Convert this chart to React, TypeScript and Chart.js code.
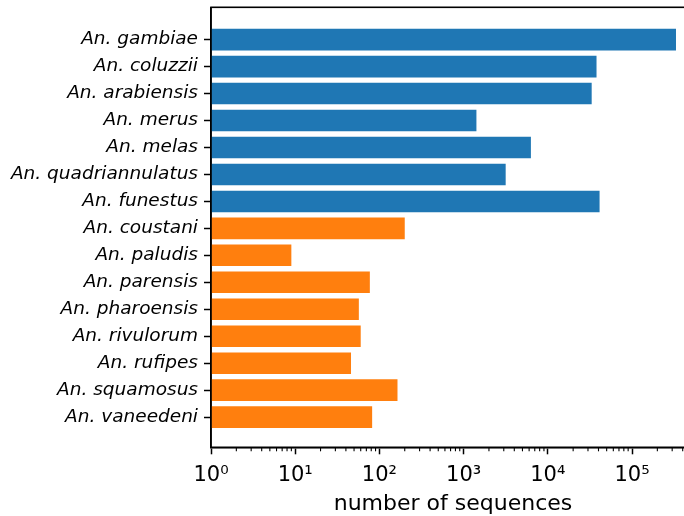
import React, { useEffect, useRef } from 'react';
import { Chart, registerables } from 'chart.js';

Chart.register(...registerables);

const species = [
  'An. gambiae',
  'An. coluzzii',
  'An. arabiensis',
  'An. merus',
  'An. melas',
  'An. quadriannulatus',
  'An. funestus',
  'An. coustani',
  'An. paludis',
  'An. parensis',
  'An. pharoensis',
  'An. rivulorum',
  'An. rufipes',
  'An. squamosus',
  'An. vaneedeni',
];

const sequenceCounts = [
  333000, 37900, 33200, 1420, 6300, 3160, 41200,
  200, 9, 77, 57, 60, 46, 164, 82,
];

const speciesGroup = [
  'gambiae complex', 'gambiae complex', 'gambiae complex', 'gambiae complex',
  'gambiae complex', 'gambiae complex', 'gambiae complex',
  'other', 'other', 'other', 'other', 'other', 'other', 'other', 'other',
];

const decadeTicks = [1, 10, 100, 1000, 10000, 100000];
const decadeLabels = ['10⁰', '10¹', '10²', '10³', '10⁴', '10⁵'];
const minorMultipliers = [2, 3, 4, 5, 6, 7, 8, 9];

const groupColors: Record<string, string> = {
  'gambiae complex': '#1f77b4',
  other: '#ff7f0e',
};

const FONT = "'DejaVu Sans', sans-serif";

const framePlugin = {
  id: 'frameAndMinor',
  afterDraw(chart: any) {
    const { ctx, chartArea } = chart;
    const xs = chart.scales.x;
    ctx.save();
    ctx.strokeStyle = '#000';
    ctx.lineWidth = 1.6;
    ctx.strokeRect(chartArea.left, chartArea.top, chartArea.right - chartArea.left, chartArea.bottom - chartArea.top);
    ctx.lineWidth = 1.1;
    for (const d of decadeTicks) {
      for (const m of minorMultipliers) {
        const v = d * m;
        if (v > xs.max) continue;
        const px = xs.getPixelForValue(v);
        ctx.beginPath();
        ctx.moveTo(px, chartArea.bottom);
        ctx.lineTo(px, chartArea.bottom + 4);
        ctx.stroke();
      }
    }
    ctx.restore();
  },
};

export default function App() {
  const canvasRef = useRef<HTMLCanvasElement | null>(null);

  useEffect(() => {
    document.body.style.margin = '0';
    if (!canvasRef.current) return;
    Chart.defaults.font.family = FONT;
    const chart = new Chart(canvasRef.current, {
      type: 'bar',
      data: {
        datasets: [
          {
            data: species.map((_, i) => ({ x: sequenceCounts[i], y: i })),
            backgroundColor: speciesGroup.map((g) => groupColors[g]),
            borderWidth: 0,
            barPercentage: 0.8,
            categoryPercentage: 1,
          },
        ],
      },
      options: {
        indexAxis: 'y',
        animation: false,
        responsive: true,
        maintainAspectRatio: false,
        layout: { padding: { top: 7.3, right: 1, left: 0, bottom: 0 } },
        plugins: {
          legend: { display: false },
          tooltip: { enabled: false },
        },
        scales: {
          y: {
            type: 'linear',
            reverse: true,
            offset: false,
            min: -1.2,
            max: 15.12,
            afterBuildTicks: (s: any) => {
              s.ticks = species.map((_, i) => ({ value: i }));
            },
            afterFit: (s: any) => {
              s.width = 211;
              s.paddingTop = 0;
              s.paddingBottom = 0;
            },
            ticks: {
              autoSkip: false,
              padding: 6,
              color: '#000',
              font: { family: FONT, size: 18.5, style: 'italic' },
              callback: (v: any) => species[v as number],
            },
            grid: {
              offset: false,
              drawOnChartArea: false,
              drawTicks: true,
              tickLength: 7,
              tickColor: '#000',
              tickWidth: 1.5,
            },
            border: { display: true, color: '#000', width: 1.6 },
          },
          x: {
            type: 'logarithmic',
            position: 'bottom',
            min: 1,
            max: 560000,
            afterBuildTicks: (s: any) => {
              s.ticks = decadeTicks.map((v) => ({ value: v }));
            },
            afterFit: (s: any) => {
              s.height = 68.7;
            },
            ticks: {
              autoSkip: false,
              maxRotation: 0,
              padding: 9,
              color: '#000',
              font: { family: FONT, size: 21 },
              callback: (v: any) => decadeLabels[decadeTicks.indexOf(Number(v))],
            },
            grid: {
              offset: false,
              drawOnChartArea: false,
              drawTicks: true,
              tickLength: 7,
              tickColor: '#000',
              tickWidth: 1.5,
            },
            border: { display: true, color: '#000', width: 1.6 },
            title: {
              display: true,
              text: 'number of sequences',
              color: '#000',
              font: { family: FONT, size: 22 },
              padding: { top: 2, bottom: -1 },
            },
          },
        },
      },
      plugins: [framePlugin],
    });
    return () => chart.destroy();
  }, []);

  return (
    <div style={{ width: 684, height: 516, overflow: 'hidden', position: 'relative' }}>
      <div style={{ width: 696, height: 516, position: 'absolute', left: 0, top: 0 }}>
        <canvas ref={canvasRef} />
      </div>
    </div>
  );
}
